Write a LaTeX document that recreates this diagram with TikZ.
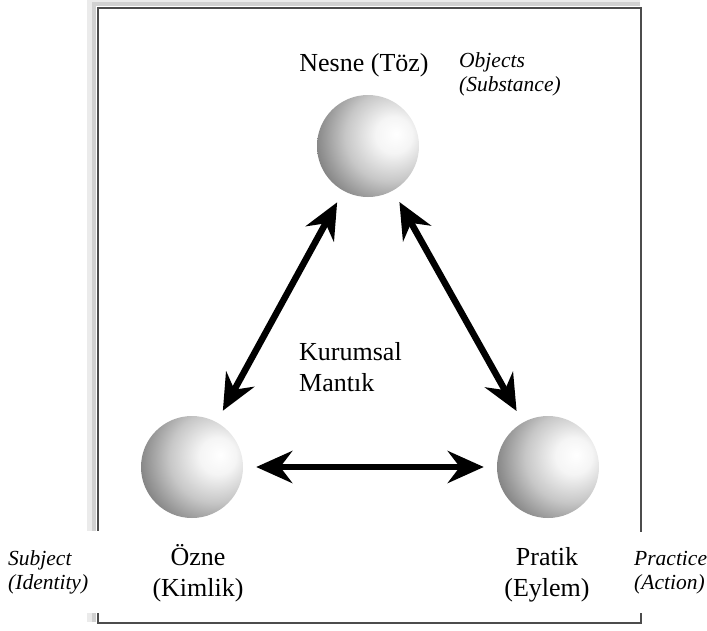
\documentclass[tikz,border=0pt]{standalone}
\usepackage{fontspec}
\setmainfont{Liberation Serif}
\usetikzlibrary{arrows.meta,positioning}

% light from the right, a little above centre
\pgfdeclareradialshading{spherelit}{\pgfpoint{14bp}{6bp}}{%
  color(0bp)=(white); color(9bp)=(black!4); color(22bp)=(black!22);
  color(36bp)=(black!50); color(50bp)=(black!82); color(100bp)=(black!82)}

\begin{document}
\begin{tikzpicture}[x=1pt,y=-1pt,
  every node/.style={font=\fontsize{26}{31}\selectfont},
  sphere/.style={circle,minimum size=102pt,inner sep=0pt,shading=spherelit},
  tr/.style={align=center,inner sep=0pt},
  en/.style={align=left,inner sep=0pt,font=\fontsize{21.5}{24}\selectfont\itshape},
  patch/.style={fill=white,inner xsep=12pt,inner ysep=19pt},
  link/.style={line width=6.5pt,
    {Stealth[length=36pt,width=32pt,inset=12pt]}-{Stealth[length=36pt,width=32pt,inset=12pt]},
    shorten <=13pt,shorten >=13pt}]
\useasboundingbox (0,0) rectangle (707,630);
% frame with a soft shadow top and left
\draw[black!8,line width=9pt] (91,622) |- (640,1);
\draw[black!18,line width=4pt] (94,622) |- (640,4);
\draw[black!70,line width=2.6pt] (98,8) rectangle (641,623);

% spheres
\node[sphere] (nesne) at (368,146) {};
\node[sphere] (ozne) at (192,467) {};
\node[sphere] (pratik) at (548,467) {};

% arrows
\draw[link] (nesne) -- (ozne);
\draw[link] (nesne) -- (pratik);
\draw[link] (ozne) -- (pratik);

% labels (base = last line)
\node[tr,anchor=base] (nesnelbl) at (364,71) {Nesne (Töz)};
\node[en,anchor=base west] (objlbl) at (459,91) {Objects\\(Substance)};
\node[align=left,inner sep=0pt,anchor=base west] (kurlbl) at (299,391) {Kurumsal\\Mantık};
\node[tr,anchor=base] (oznelbl) at (198,596) {Özne\\(Kimlik)};
\node[tr,anchor=base] (pratiklbl) at (547,596) {Pratik\\(Eylem)};
\node[en,patch,anchor=base west] (subjlbl) at (-4,589) {Subject\\(Identity)};
\node[en,patch,anchor=base west] (praclbl) at (622,589) {Practice\\(Action)};
\end{tikzpicture}
\end{document}
